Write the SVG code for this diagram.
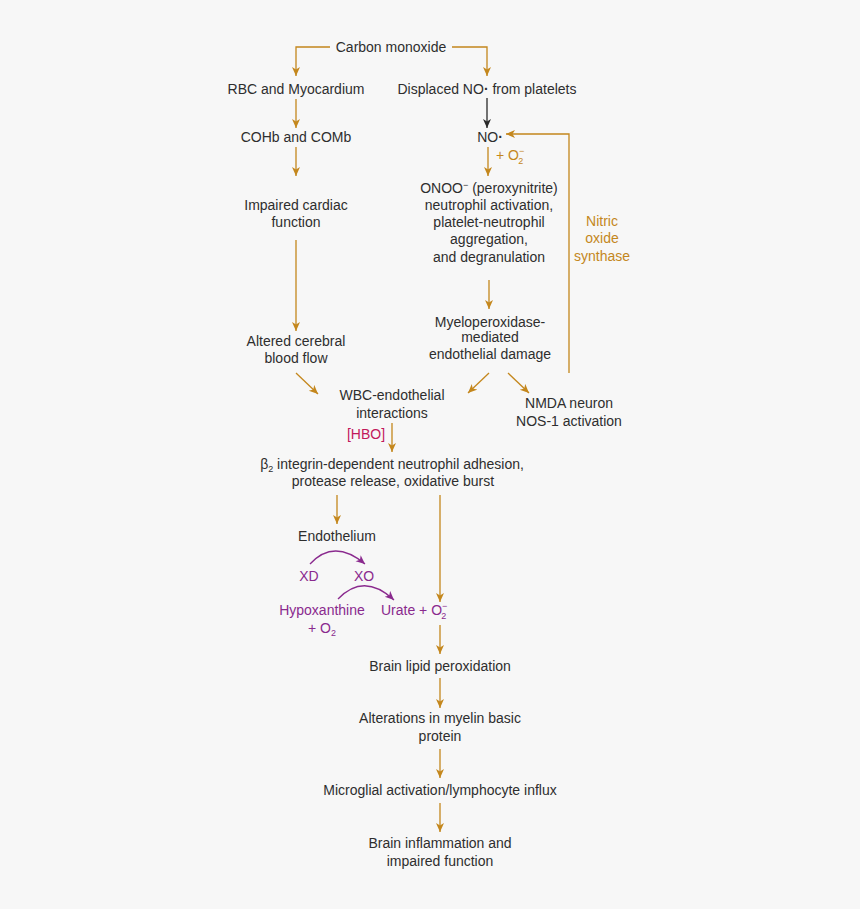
<svg xmlns="http://www.w3.org/2000/svg" width="860" height="909" viewBox="0 0 860 909">
<defs>
<style>
text{font-family:"Liberation Sans","Open Sans",Arial,sans-serif;font-size:14px;fill:#2e2e2e;text-anchor:middle}
.st{text-anchor:start}
.or{fill:#c4871d}
.pu{fill:#8a2a8e}
.hb{fill:#c2185b}
.c{fill:none;stroke:#c4871d;stroke-width:1.3}
.k{fill:none;stroke:#2a2a2a;stroke-width:1.3}
.p{fill:none;stroke:#8a2a8e;stroke-width:1.3}
</style>
<marker id="ao" markerWidth="10" markerHeight="10" refX="9" refY="4.5" orient="auto" markerUnits="userSpaceOnUse"><path d="M0,0.5 L9,4.5 L0,8.5 L2.5,4.5 z" fill="#c4871d"/></marker>
<marker id="ak" markerWidth="10" markerHeight="10" refX="9" refY="4.5" orient="auto" markerUnits="userSpaceOnUse"><path d="M0,0.5 L9,4.5 L0,8.5 L2.5,4.5 z" fill="#2a2a2a"/></marker>
<marker id="ap" markerWidth="10" markerHeight="10" refX="9" refY="4.5" orient="auto" markerUnits="userSpaceOnUse"><path d="M0,0.5 L9,4.5 L0,8.5 L2.5,4.5 z" fill="#8a2a8e"/></marker>
</defs>
<rect width="860" height="909" fill="#f7f7f7"/>
<g id="connectors">
<path class="c" d="M330,47 H296 V76" marker-end="url(#ao)"/>
<path class="c" d="M452,47 H487 V76" marker-end="url(#ao)"/>
<path class="c" d="M296,99 V128" marker-end="url(#ao)"/>
<path class="k" d="M487,98 V128" marker-end="url(#ak)"/>
<path class="c" d="M296,147 V176" marker-end="url(#ao)"/>
<path class="c" d="M488,147 V176" marker-end="url(#ao)"/>
<path class="c" d="M296,240 V331" marker-end="url(#ao)"/>
<path class="c" d="M489,280 V309" marker-end="url(#ao)"/>
<path class="c" d="M569,373 V134 H506" marker-end="url(#ao)"/>
<path class="c" d="M296,373 L318,394" marker-end="url(#ao)"/>
<path class="c" d="M489,373 L468,393" marker-end="url(#ao)"/>
<path class="c" d="M508,373 L529,393" marker-end="url(#ao)"/>
<path class="c" d="M392,423 V452" marker-end="url(#ao)"/>
<path class="c" d="M337,495 V524" marker-end="url(#ao)"/>
<path class="c" d="M440,495 V602" marker-end="url(#ao)"/>
<path class="c" d="M440,625 V654" marker-end="url(#ao)"/>
<path class="c" d="M440,678 V708" marker-end="url(#ao)"/>
<path class="c" d="M440,749 V778" marker-end="url(#ao)"/>
<path class="c" d="M440,803 V832" marker-end="url(#ao)"/>
<path class="p" d="M310,564 Q334,538 365,564" marker-end="url(#ap)"/>
<path class="p" d="M338,599 Q364,572 394,600" marker-end="url(#ap)"/>
</g>
<g id="carbon-monoxide"><text x="391" y="52">Carbon monoxide</text></g>
<g id="rbc"><text x="296" y="94">RBC and Myocardium</text></g>
<g id="displaced"><text x="487" y="94">Displaced NO<tspan font-weight="bold">·</tspan> from platelets</text></g>
<g id="cohb"><text x="296" y="142">COHb and COMb</text></g>
<g id="no"><text x="490" y="142">NO<tspan font-weight="bold">·</tspan></text></g>
<g id="o2-label"><text class="or st" x="496" y="160">+ O<tspan font-size="9" dy="-6">−</tspan><tspan font-size="9" dy="10" dx="-6">2</tspan></text></g>
<g id="impaired"><text x="296" y="210">Impaired cardiac</text><text x="296" y="227">function</text></g>
<g id="onoo">
<text x="489" y="193">ONOO<tspan font-size="9" dy="-5">−</tspan><tspan dy="5"> (peroxynitrite)</tspan></text>
<text x="489" y="210">neutrophil activation,</text>
<text x="489" y="227">platelet-neutrophil</text>
<text x="489" y="244">aggregation,</text>
<text x="489" y="262">and degranulation</text>
</g>
<g id="nos"><text class="or" x="602" y="226">Nitric</text><text class="or" x="602" y="243">oxide</text><text class="or" x="602" y="261">synthase</text></g>
<g id="myelo"><text x="490" y="327">Myeloperoxidase-</text><text x="490" y="342">mediated</text><text x="490" y="359">endothelial damage</text></g>
<g id="altered"><text x="296" y="346">Altered cerebral</text><text x="296" y="363">blood flow</text></g>
<g id="wbc"><text x="392" y="400">WBC-endothelial</text><text x="392" y="418">interactions</text></g>
<g id="nmda"><text x="569" y="408">NMDA neuron</text><text x="569" y="426">NOS-1 activation</text></g>
<g id="hbo"><text class="hb" x="366" y="439">[HBO]</text></g>
<g id="beta2"><text x="392" y="469">β<tspan font-size="9" dy="3">2</tspan><tspan dy="-3"> integrin-dependent neutrophil adhesion,</tspan></text><text x="393" y="486">protease release, oxidative burst</text></g>
<g id="endothelium"><text x="337" y="541">Endothelium</text></g>
<g id="xd"><text class="pu" x="309" y="581">XD</text></g>
<g id="xo"><text class="pu" x="364" y="581">XO</text></g>
<g id="hypoxanthine"><text class="pu" x="322" y="615">Hypoxanthine</text><text class="pu" x="322" y="633">+ O<tspan font-size="9" dy="3">2</tspan></text></g>
<g id="urate"><text class="pu st" x="381" y="615">Urate + O<tspan font-size="9" dy="-6">−</tspan><tspan font-size="9" dy="10" dx="-6">2</tspan></text></g>
<g id="lipid"><text x="440" y="671">Brain lipid peroxidation</text></g>
<g id="myelin"><text x="440" y="723">Alterations in myelin basic</text><text x="440" y="741">protein</text></g>
<g id="microglial"><text x="440" y="795">Microglial activation/lymphocyte influx</text></g>
<g id="inflammation"><text x="440" y="848">Brain inflammation and</text><text x="440" y="866">impaired function</text></g>
</svg>
